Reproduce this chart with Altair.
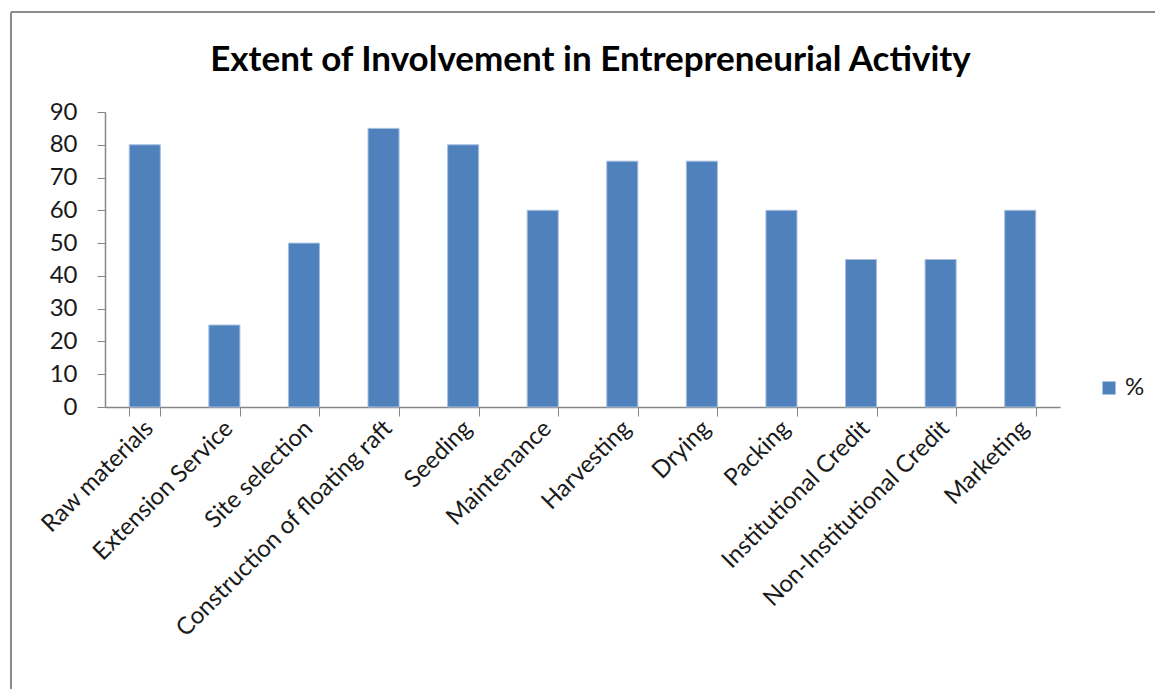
import altair as alt
import pandas as pd

categories = ["Raw materials", "Extension Service", "Site selection",
              "Construction of floating raft", "Seeding", "Maintenance",
              "Harvesting", "Drying", "Packing", "Institutional  Credit",
              "Non-Institutional Credit", "Marketing"]
values = [80, 25, 50, 85, 80, 60, 75, 75, 60, 45, 45, 60]
series_name = "%"
y_ticks = [0, 10, 20, 30, 40, 50, 60, 70, 80, 90]

df = pd.DataFrame({"Activity": categories, "Value": values, "Series": series_name})

FONT = "Lato"
AXIS_GRAY = "#868686"

bars = alt.Chart(df).mark_bar(color="#4F81BD", stroke="#A7BEDF", strokeWidth=1).encode(
    x=alt.X("Activity:N", sort=categories, title=None,
            scale=alt.Scale(paddingInner=0.61, paddingOuter=0.305),
            axis=alt.Axis(labelAngle=-45, labelAlign="right", labelBaseline="top",
                          labelFontSize=24, labelFont=FONT, labelColor="#1a1a1a",
                          tickBand="extent", tickSize=9, tickColor=AXIS_GRAY,
                          domainColor=AXIS_GRAY, domainWidth=1.5, labelPadding=0,
                          labelLimit=500, labelOffset=-4)),
    y=alt.Y("Value:Q", title=None,
            scale=alt.Scale(domain=[0, 90], nice=False),
            axis=alt.Axis(values=y_ticks, grid=False, labelFontSize=24, labelFont=FONT,
                          labelColor="#1a1a1a", tickSize=8, tickColor=AXIS_GRAY,
                          domainColor=AXIS_GRAY, domainWidth=1.5, labelPadding=20)),
    color=alt.Color("Series:N", title=None,
                    scale=alt.Scale(range=["#4F81BD"]),
                    legend=alt.Legend(orient="none", legendX=992, legendY=264,
                                      symbolType="square", symbolSize=169,
                                      symbolStrokeWidth=0,
                                      labelFontSize=24, labelFont=FONT,
                                      labelColor="#1a1a1a")),
)

frame_data = alt.Data(values=[{"k": 1}])
left_border = alt.Chart(frame_data).mark_rule(color="#8C8C8C", strokeWidth=2).encode(
    x=alt.value(-94), y=alt.value(-100), y2=alt.value(577))
top_border = alt.Chart(frame_data).mark_rule(color="#8C8C8C", strokeWidth=2).encode(
    x=alt.value(-94), x2=alt.value(1050), y=alt.value(-100))

chart = alt.layer(bars, left_border, top_border).properties(
    width=955, height=295,
    title=alt.TitleParams("Extent of Involvement in Entrepreneurial Activity",
                          fontSize=35, fontWeight="bold", font=FONT, color="#000000",
                          anchor="middle", offset=0, dy=67, dx=8),
    autosize=alt.AutoSizeParams(type="none"),
    padding={"left": 105, "top": 112, "right": 95, "bottom": 282},
).configure(background="white").configure_view(strokeWidth=0, stroke="transparent")

chart.save("out.html", embed_options={"renderer": "svg", "actions": False})
